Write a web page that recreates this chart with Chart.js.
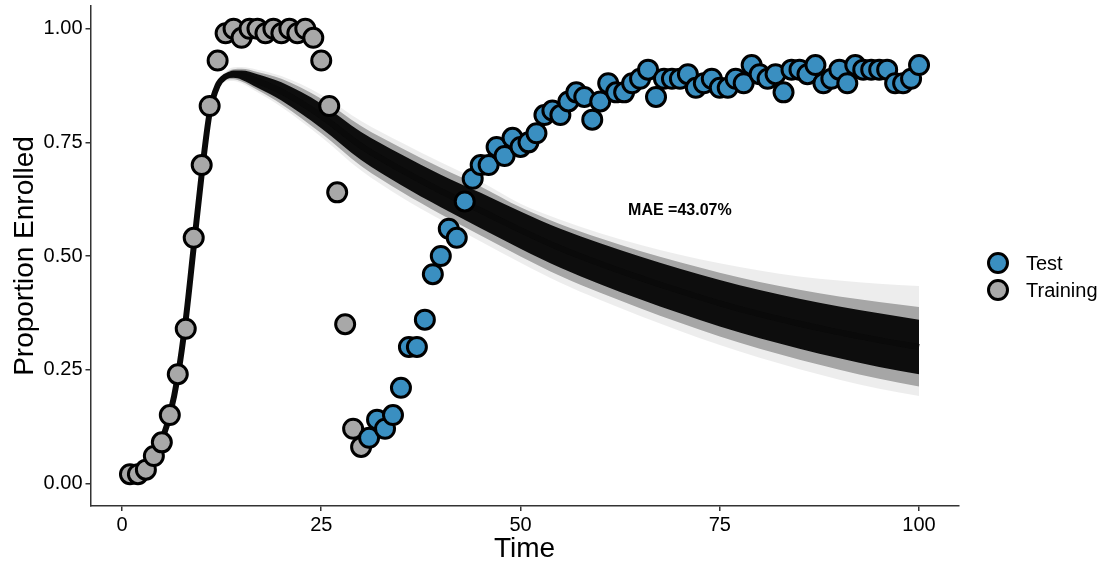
<!DOCTYPE html>
<html><head><meta charset="utf-8">
<script src="https://cdn.jsdelivr.net/npm/chart.js@4.4.1/dist/chart.umd.min.js"></script>
<style>html,body{margin:0;padding:0;background:#fff;overflow:hidden}canvas{display:block}</style>
</head><body>
<canvas id="c" width="1107" height="564"></canvas>
<script>
// ---- data ----
const trainTime = [1,2,3,4,5,6,7,8,9,10,11,12,13,14,15,16,17,18,19,20,21,22,23,24,25,26,27,28,29,30];
const trainValue = [0.02,0.02,0.03,0.06,0.09,0.15,0.24,0.34,0.54,0.70,0.83,0.93,0.99,1.00,0.98,1.00,1.00,0.99,1.00,0.99,1.00,0.99,1.00,0.98,0.93,0.83,0.64,0.35,0.12,0.08];
const testTime = [31,32,33,34,35,36,37,38,39,40,41,42,43,44,45,46,47,48,49,50,51,52,53,54,55,56,57,58,59,60,61,62,63,64,65,66,67,68,69,70,71,72,73,74,75,76,77,78,79,80,81,82,83,84,85,86,87,88,89,90,91,92,93,94,95,96,97,98,99,100];
const testValue = [0.10,0.14,0.12,0.15,0.21,0.30,0.30,0.36,0.46,0.50,
  0.56,0.54,0.62,0.67,0.70,0.70,0.74,0.72,0.76,0.74,
  0.75,0.77,0.81,0.82,0.81,0.84,0.86,0.85,0.80,0.84,
  0.88,0.86,0.86,0.88,0.89,0.91,0.85,0.89,0.89,0.89,
  0.90,0.87,0.88,0.89,0.87,0.87,0.89,0.88,0.92,0.90,
  0.89,0.90,0.86,0.91,0.91,0.90,0.92,0.88,0.89,0.91,
  0.88,0.92,0.91,0.91,0.91,0.91,0.88,0.88,0.89,0.92];

// posterior curve bundle (centre, dense core, halo, faint envelope)
const bandTime    = [1,2,3,4,5,6,7,8,9,10,11,12,13,14,15,17,20,25,30,35,40,45,50,55,60,65,70,75,80,85,90,95,100];
const bandMid     = [0.005,0.012,0.028,0.055,0.095,0.150,0.235,0.360,0.520,0.680,0.815,0.875,0.895,0.900,0.898,0.885,0.862,0.808,0.742,0.690,0.643,0.600,0.557,0.517,0.483,0.452,0.423,0.396,0.372,0.351,0.332,0.315,0.300];
const bandCoreHi  = [0.009,0.016,0.032,0.059,0.099,0.154,0.239,0.364,0.524,0.684,0.819,0.879,0.899,0.908,0.908,0.900,0.882,0.835,0.773,0.724,0.679,0.639,0.598,0.560,0.528,0.499,0.472,0.447,0.425,0.406,0.389,0.374,0.360];
const bandCoreLo  = [0.001,0.008,0.024,0.051,0.091,0.146,0.231,0.356,0.516,0.676,0.811,0.871,0.891,0.892,0.888,0.870,0.842,0.781,0.711,0.656,0.607,0.561,0.516,0.474,0.438,0.405,0.374,0.345,0.319,0.296,0.275,0.256,0.240];
const bandHaloHi  = [0.010,0.017,0.033,0.060,0.100,0.155,0.240,0.365,0.525,0.685,0.820,0.881,0.902,0.911,0.912,0.905,0.890,0.846,0.786,0.738,0.694,0.653,0.607,0.570,0.539,0.511,0.486,0.463,0.443,0.426,0.411,0.399,0.388];
const bandHaloLo  = [0.000,0.007,0.023,0.050,0.090,0.145,0.230,0.355,0.515,0.675,0.810,0.869,0.888,0.889,0.884,0.865,0.834,0.770,0.698,0.642,0.592,0.545,0.499,0.456,0.419,0.385,0.353,0.323,0.296,0.272,0.250,0.230,0.213];
const bandOuterHi = [0.011,0.018,0.034,0.061,0.101,0.156,0.241,0.366,0.526,0.686,0.822,0.884,0.906,0.915,0.916,0.910,0.896,0.855,0.797,0.750,0.706,0.664,0.615,0.580,0.550,0.525,0.503,0.484,0.468,0.455,0.446,0.439,0.434];
const bandOuterLo = [0.000,0.006,0.022,0.049,0.089,0.144,0.229,0.354,0.514,0.674,0.808,0.866,0.884,0.885,0.880,0.860,0.828,0.762,0.688,0.630,0.580,0.532,0.485,0.441,0.403,0.368,0.335,0.304,0.276,0.251,0.228,0.208,0.192];

const xTicks = [0,25,50,75,100];
const yTicks = [0,0.25,0.5,0.75,1];
const maeLabel = 'MAE =43.07%';
const maeX = 70, maeY = 0.6;

const FONT = "'Liberation Sans', Arial, sans-serif";
const pts = (xs, ys) => xs.map((x,i)=>({x:x, y:ys[i]}));

function bandLine(ys, fill, col){
  return {type:'scatter', data: pts(bandTime, ys), showLine:true, pointRadius:0, borderWidth:0,
    borderColor:'rgba(0,0,0,0)', backgroundColor: col, fill: fill, cubicInterpolationMode:'monotone'};
}

const legendPlugin = {
  id:'ggLegend',
  afterDraw(chart){
    const ctx = chart.ctx;
    const items = [chart.data.datasets[0], chart.data.datasets[1]];
    const ys = [263, 290];
    ctx.save();
    items.forEach((ds,i)=>{
      ctx.beginPath();
      ctx.arc(998, ys[i], 9.5, 0, Math.PI*2);
      ctx.fillStyle = ds.backgroundColor; ctx.fill();
      ctx.lineWidth = 3; ctx.strokeStyle = '#000'; ctx.stroke();
      ctx.fillStyle = '#000';
      ctx.font = '20px ' + FONT;
      ctx.textAlign='left'; ctx.textBaseline='middle';
      ctx.fillText(ds.label, 1026, ys[i]+1);
    });
    ctx.restore();
  }
};
const maePlugin = {
  id:'mae',
  afterDatasetsDraw(chart){
    const ctx = chart.ctx;
    const x = chart.scales.x.getPixelForValue(maeX);
    const y = chart.scales.y.getPixelForValue(maeY);
    ctx.save();
    ctx.font = 'bold 16px ' + FONT;
    ctx.fillStyle = '#000'; ctx.textAlign='center'; ctx.textBaseline='middle';
    ctx.fillText(maeLabel, x, y);
    ctx.restore();
  }
};

new Chart(document.getElementById('c'), {
  type:'scatter',
  data:{datasets:[
    {label:'Test', data: pts(testTime, testValue), backgroundColor:'#3A8FC1', borderColor:'#000', borderWidth:3, pointRadius:9.5},
    {label:'Training', data: pts(trainTime, trainValue), backgroundColor:'#A8A8A8', borderColor:'#000', borderWidth:3, pointRadius:9.5},
    {label:'fit', data: pts(bandTime, bandMid), showLine:true, pointRadius:0, borderWidth:6, borderColor:'#0a0a0a', cubicInterpolationMode:'monotone', fill:false},
    bandLine(bandCoreHi, '+1', 'rgba(8,8,8,0.97)'),
    bandLine(bandCoreLo, false, 'rgba(0,0,0,0)'),
    bandLine(bandHaloHi, '+1', 'rgba(0,0,0,0.3)'),
    bandLine(bandHaloLo, false, 'rgba(0,0,0,0)'),
    bandLine(bandOuterHi, '+1', 'rgba(0,0,0,0.07)'),
    bandLine(bandOuterLo, false, 'rgba(0,0,0,0)')
  ]},
  options:{
    responsive:false, animation:false, devicePixelRatio:1, events:[],
    layout:{autoPadding:false, padding:{top:6, right:148.5, left:0, bottom:0}},
    plugins:{legend:{display:false}, tooltip:{enabled:false}},
    scales:{
      x:{type:'linear', min:-3.95, max:104.95,
        afterBuildTicks: s=>{ s.ticks = xTicks.map(v=>({value:v})); },
        afterFit: s=>{ s.height = 58; s.paddingLeft = 0; s.paddingRight = 0; },
        ticks:{font:{family:FONT, size:20}, color:'#000', padding:2, maxRotation:0, autoSkip:false, callback:v=>String(v)},
        grid:{drawOnChartArea:false, drawTicks:true, tickLength:5, color:'#333', lineWidth:1.5},
        border:{display:true, color:'#333', width:1.5},
        title:{display:true, text:'Time', color:'#000', font:{family:FONT, size:28, lineHeight:1}, padding:{top:0,bottom:1}}
      },
      y:{type:'linear', min:-0.05, max:1.05,
        afterBuildTicks: s=>{ s.ticks = yTicks.map(v=>({value:v})); },
        afterFit: s=>{ s.width = 90.5; s.paddingTop = 0; s.paddingBottom = 0; },
        ticks:{font:{family:FONT, size:20}, color:'#000', padding:3, callback:v=>Number(v).toFixed(2)},
        grid:{drawOnChartArea:false, drawTicks:true, tickLength:5, color:'#333', lineWidth:1.5},
        border:{display:true, color:'#333', width:1.5},
        title:{display:true, text:'Proportion Enrolled', color:'#000', font:{family:FONT, size:28, lineHeight:1}, padding:{top:11,bottom:0}}
      }
    }
  },
  plugins:[legendPlugin, maePlugin]
});
</script>
</body></html>
